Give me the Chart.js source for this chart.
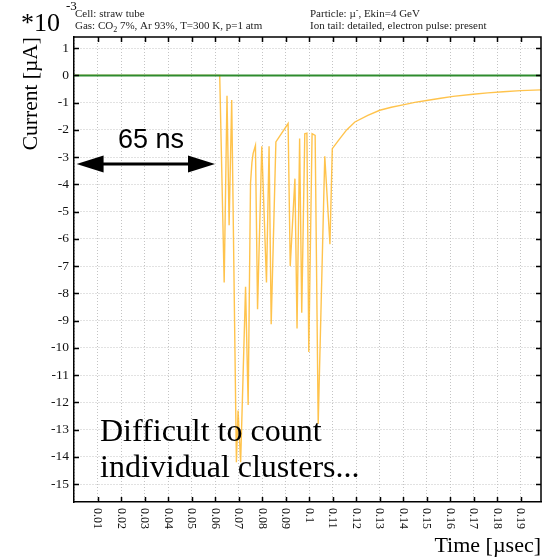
<!DOCTYPE html>
<html>
<head>
<meta charset="utf-8">
<script src="https://cdn.jsdelivr.net/npm/chart.js@4.4.1/dist/chart.umd.min.js"></script>
<style>
  html, body { margin: 0; padding: 0; background: #fff; }
  #wrap { width: 558px; height: 558px; }
</style>
</head>
<body>
<div id="wrap"><canvas id="pulseChart" width="558" height="558"></canvas></div>
<script>
// signal current (units of 1e-3 uA) vs time (usec)
var timeUs = [0, 0.0620, 0.0639, 0.0651, 0.0660, 0.0671, 0.0691, 0.0698, 0.0709, 0.0730,
  0.0741, 0.0751, 0.0757, 0.0762, 0.0772, 0.0781, 0.0799, 0.0819, 0.0830, 0.0839, 0.0859,
  0.0911, 0.0920, 0.0940, 0.0949, 0.0960, 0.0969, 0.0982, 0.0991, 0.0999, 0.1013,
  0.1026, 0.1039, 0.1067, 0.1089, 0.1099, 0.1131, 0.1160, 0.1195, 0.1250, 0.1301,
  0.1350, 0.1400, 0.1450, 0.1500, 0.1560, 0.1613, 0.1698, 0.1760, 0.1826, 0.1900, 0.1987];
var currentE3 = [0, 0, -7.6, -0.75, -5.5, -0.9, -14.2, -12.3, -14.2, -7.76,
  -12.1, -3.97, -3.2, -2.87, -2.57, -8.58, -2.6, -7.6, -2.6, -9.13, -2.44,
  -1.77, -7.0, -3.79, -9.29, -2.32, -8.71, -2.14, -2.12, -10.15, -2.14,
  -2.2, -12.8, -2.97, -6.2, -2.69, -2.32, -2.0, -1.71, -1.47, -1.28,
  -1.17, -1.08, -0.99, -0.92, -0.84, -0.77, -0.69, -0.64, -0.60, -0.56, -0.53];

// zero baseline
var baselineTime = [0, 0.1987];
var baselineValue = [0, 0];

var xTickLabels = ["0.01", "0.02", "0.03", "0.04", "0.05", "0.06", "0.07", "0.08", "0.09", "0.1",
  "0.11", "0.12", "0.13", "0.14", "0.15", "0.16", "0.17", "0.18", "0.19"];

var SERIF = "'Liberation Serif', 'DejaVu Serif', serif";
var SANS = "'Liberation Sans', Arial, sans-serif";

function toPoints(xs, ys) {
  return xs.map(function (x, i) { return { x: x, y: ys[i] }; });
}

// frame ticks, rotated x labels, titles and notes
var decorations = {
  id: 'decorations',
  afterDraw: function (chart) {
    var ctx = chart.ctx;
    var a = chart.chartArea;
    var xs = chart.scales.x, ys = chart.scales.y;

    ctx.save();
    ctx.strokeStyle = '#000';
    ctx.lineWidth = 1.5;
    // top + right frame
    ctx.beginPath();
    ctx.moveTo(a.left, a.top); ctx.lineTo(a.right, a.top); ctx.lineTo(a.right, a.bottom);
    ctx.stroke();

    // inward ticks
    ctx.beginPath();
    xs.ticks.forEach(function (t) {
      if (t.value < 0.005) return;
      var px = Math.round(xs.getPixelForValue(t.value)) + 0.5;
      ctx.moveTo(px, a.bottom); ctx.lineTo(px, a.bottom - 5);
      ctx.moveTo(px, a.top); ctx.lineTo(px, a.top + 5);
    });
    ys.ticks.forEach(function (t) {
      var py = Math.round(ys.getPixelForValue(t.value)) + 0.5;
      ctx.moveTo(a.left, py); ctx.lineTo(a.left + 5, py);
      ctx.moveTo(a.right, py); ctx.lineTo(a.right - 5, py);
    });
    ctx.stroke();

    // x labels, rotated clockwise
    ctx.fillStyle = '#111';
    ctx.font = '12px ' + SERIF;
    ctx.textAlign = 'left';
    ctx.textBaseline = 'middle';
    xs.ticks.forEach(function (t) {
      var k = Math.round(t.value * 100);
      if (k < 1 || k > xTickLabels.length) return;
      ctx.save();
      ctx.translate(xs.getPixelForValue(t.value), a.bottom + 6);
      ctx.rotate(Math.PI / 2);
      ctx.fillText(xTickLabels[k - 1], 0, 0);
      ctx.restore();
    });

    // axis titles
    ctx.fillStyle = '#000';
    ctx.font = '22px ' + SERIF;
    ctx.textAlign = 'right';
    ctx.textBaseline = 'alphabetic';
    ctx.fillText('Time [\u00b5sec]', a.right, 552);

    ctx.save();
    ctx.translate(31, a.top);
    ctx.rotate(-Math.PI / 2);
    ctx.font = '21.5px ' + SERIF;
    ctx.textAlign = 'right';
    ctx.textBaseline = 'middle';
    ctx.fillText('Current [\u00b5A]', 0, 0);
    ctx.restore();

    // exponent
    ctx.textAlign = 'left';
    ctx.font = '26px ' + SERIF;
    ctx.fillText('*10', 21, 31);
    ctx.font = '13px ' + SERIF;
    ctx.fillText('-3', 66, 10);

    // header notes
    ctx.font = '11px ' + SERIF;
    ctx.fillStyle = '#222';
    ctx.fillText('Cell: straw tube', 75, 17);
    var x0 = 75;
    ctx.fillText('Gas: CO', x0, 29);
    x0 += ctx.measureText('Gas: CO').width;
    ctx.font = '8px ' + SERIF;
    ctx.fillText('2', x0, 32);
    x0 += ctx.measureText('2').width;
    ctx.font = '11px ' + SERIF;
    ctx.fillText(' 7%, Ar 93%, T=300 K, p=1 atm', x0, 29);

    var x1 = 310;
    ctx.fillText('Particle: \u00b5', x1, 17);
    x1 += ctx.measureText('Particle: \u00b5').width;
    ctx.font = '8px ' + SERIF;
    ctx.fillText('-', x1, 13);
    x1 += ctx.measureText('-').width;
    ctx.font = '11px ' + SERIF;
    ctx.fillText(', Ekin=4 GeV', x1, 17);
    ctx.fillText('Ion tail: detailed, electron pulse: present', 310, 29);

    // 65 ns double arrow
    var ax1 = xs.getPixelForValue(0.0011), ax2 = xs.getPixelForValue(0.0600);
    var ay = ys.getPixelForValue(-3.25);
    ctx.fillStyle = '#000';
    ctx.strokeStyle = '#000';
    ctx.lineWidth = 3;
    ctx.beginPath();
    ctx.moveTo(ax1 + 20, ay); ctx.lineTo(ax2 - 20, ay);
    ctx.stroke();
    ctx.beginPath();
    ctx.moveTo(ax1, ay); ctx.lineTo(ax1 + 27, ay - 8.5); ctx.lineTo(ax1 + 27, ay + 8.5); ctx.closePath();
    ctx.moveTo(ax2, ay); ctx.lineTo(ax2 - 27, ay - 8.5); ctx.lineTo(ax2 - 27, ay + 8.5); ctx.closePath();
    ctx.fill();

    ctx.font = '27px ' + SANS;
    ctx.fillText('65 ns', 118, 148);

    ctx.font = '32px ' + SERIF;
    ctx.fillText('Difficult to count', 100, 441);
    ctx.fillText('individual clusters...', 100, 477);
    ctx.restore();
  }
};

new Chart(document.getElementById('pulseChart'), {
  type: 'line',
  data: {
    datasets: [{
      label: 'baseline',
      data: toPoints(baselineTime, baselineValue),
      borderColor: '#2e8b2e',
      borderWidth: 2,
      pointRadius: 0,
      tension: 0
    }, {
      label: 'signal',
      data: toPoints(timeUs, currentE3),
      borderColor: 'rgba(255, 185, 45, 0.85)',
      borderWidth: 1.4,
      pointRadius: 0,
      tension: 0
    }]
  },
  options: {
    responsive: false,
    animation: false,
    devicePixelRatio: 1,
    layout: { padding: { top: 37, right: 17, bottom: 56, left: 0 } },
    plugins: { legend: { display: false }, tooltip: { enabled: false } },
    scales: {
      x: {
        type: 'linear',
        min: 0,
        max: 0.1987,
        ticks: { stepSize: 0.01, display: false, includeBounds: false },
        grid: { color: '#c4c4c4', lineWidth: 1, drawTicks: false },
        border: { display: true, color: '#000', width: 1.5, dash: [1, 2] }
      },
      y: {
        min: -15.66,
        max: 1.41,
        afterFit: function (s) { s.width = 74; },
        ticks: {
          stepSize: 1,
          includeBounds: false,
          padding: 5,
          color: '#111',
          font: { family: SERIF, size: 13.5 }
        },
        grid: { color: '#c4c4c4', lineWidth: 1, drawTicks: false },
        border: { display: true, color: '#000', width: 1.5, dash: [1, 2] }
      }
    }
  },
  plugins: [decorations]
});
</script>
</body>
</html>
